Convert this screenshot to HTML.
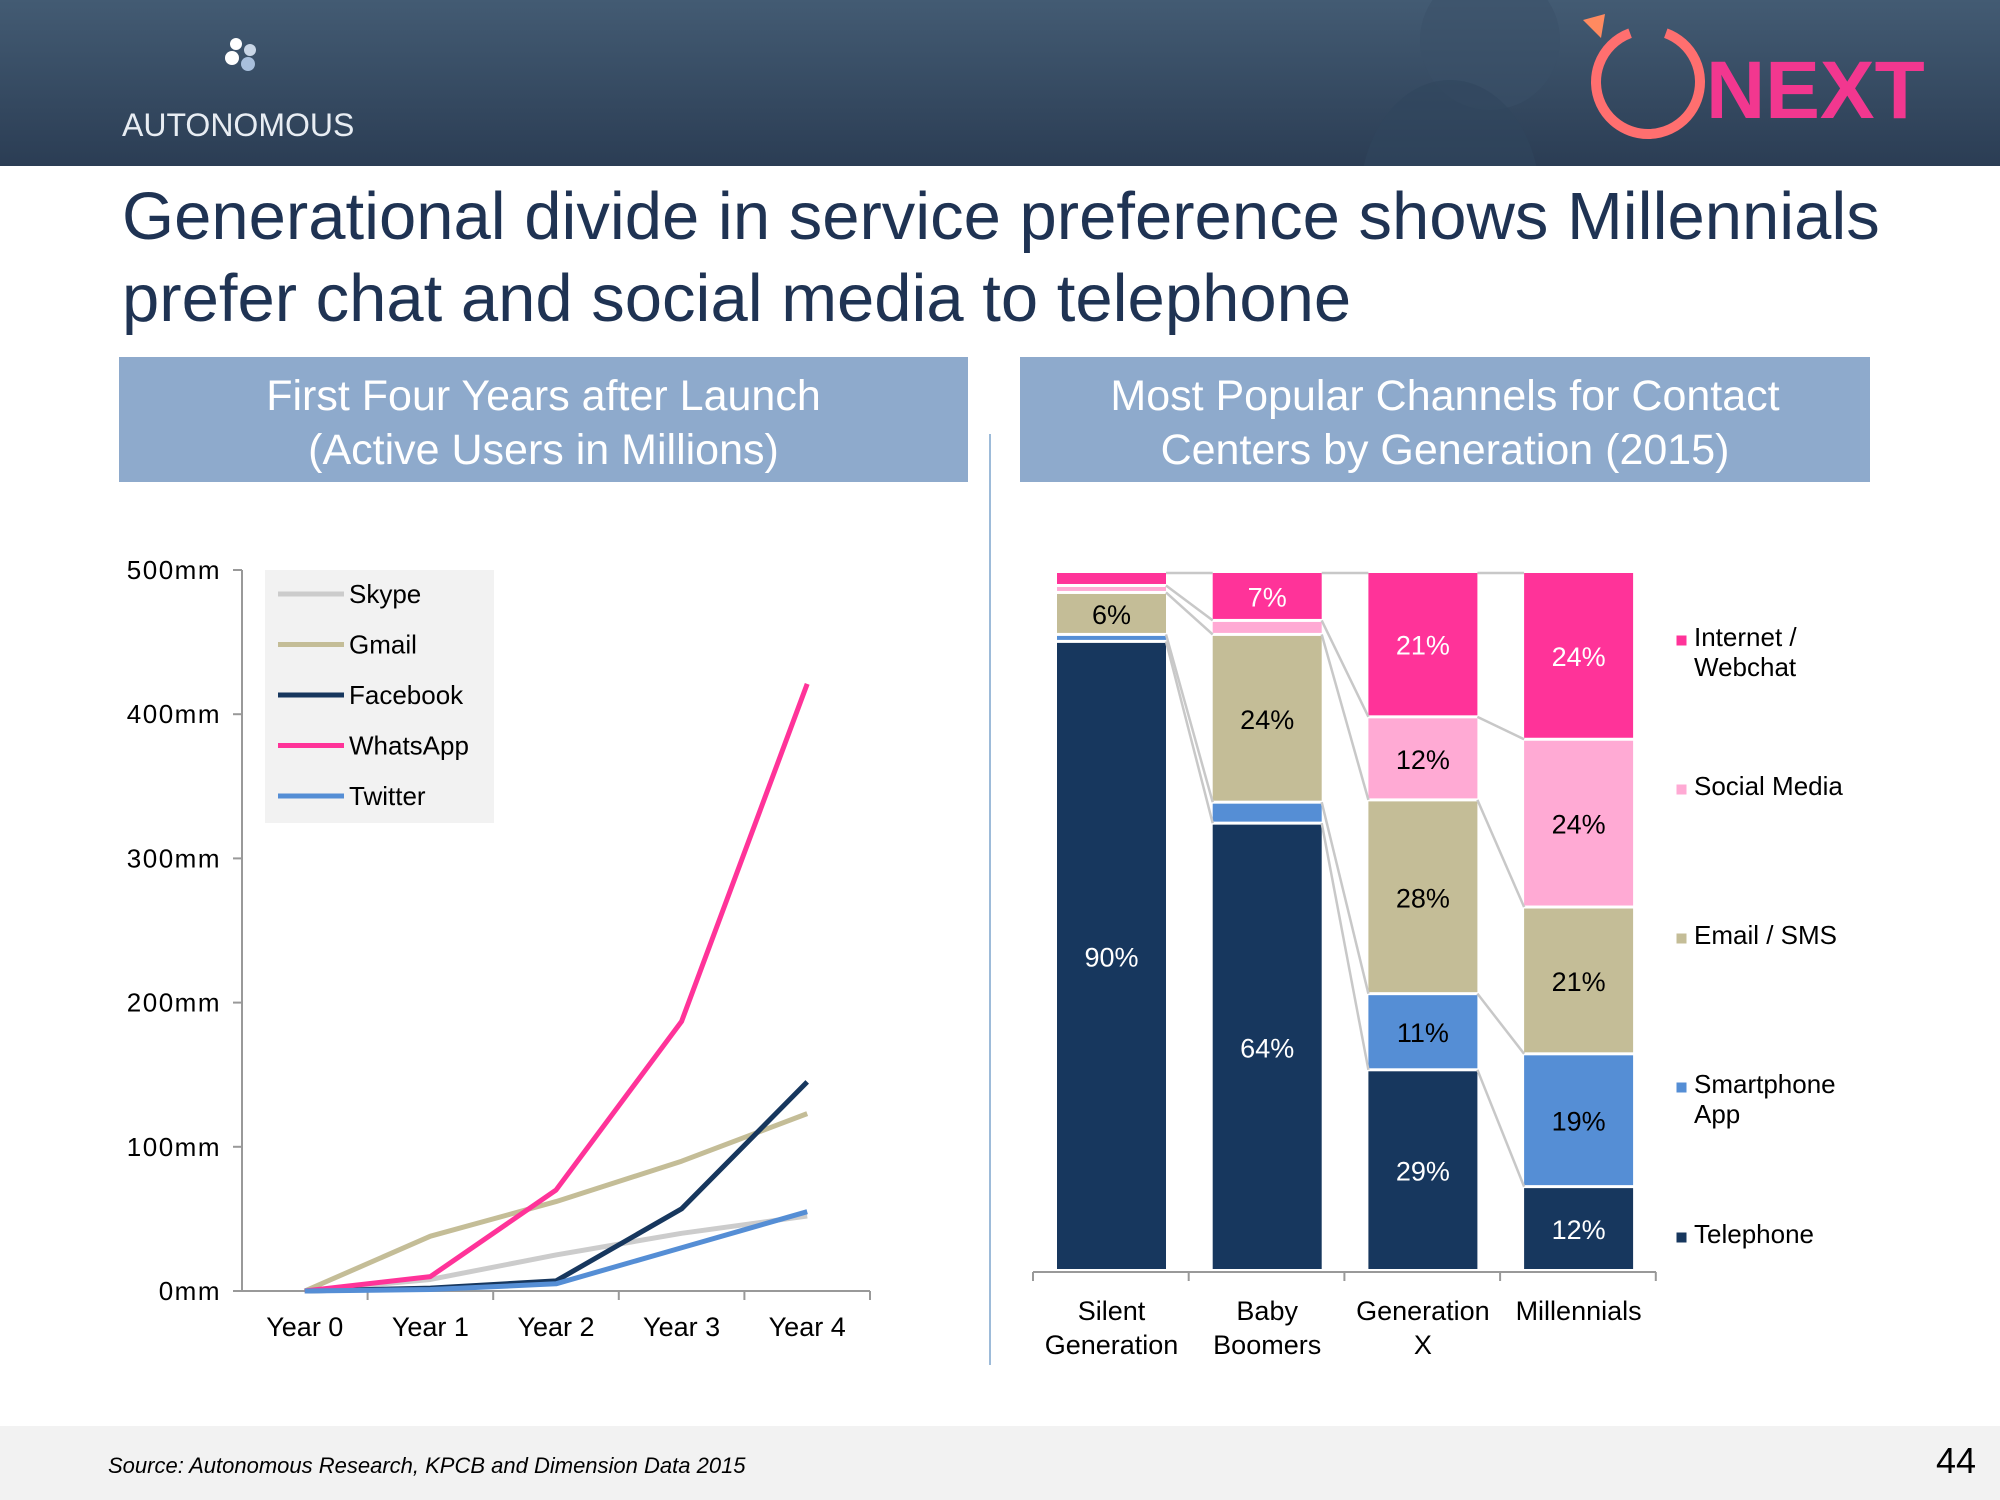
<!DOCTYPE html>
<html><head><meta charset="utf-8"><style>
body{margin:0;width:2000px;height:1500px;overflow:hidden;background:#fff;font-family:"Liberation Sans",sans-serif;position:relative}
.abs{position:absolute}
.panel{position:absolute;background:#8eaacc;color:#fff;font-size:43px;text-align:center;line-height:54px;padding-top:12px;box-sizing:border-box}
</style></head><body>
<div class="abs" style="left:0;top:0;width:2000px;height:166px;background:linear-gradient(#435b73,#2b3d54)"></div>
<svg class="abs" style="left:0;top:0" width="2000" height="166">
<circle cx="1490" cy="40" r="70" fill="#3a5068" opacity="0.5"/>
<ellipse cx="1450" cy="200" rx="90" ry="120" fill="#31465d" opacity="0.6"/>
<circle cx="236" cy="44" r="6" fill="#fff"/><circle cx="250" cy="50" r="6" fill="#c9d6e6"/><circle cx="232" cy="58" r="7" fill="#fff"/><circle cx="248" cy="64" r="7" fill="#a8bfdc"/>
<text x="122" y="136" fill="#e8edf3" font-size="32" font-family="Liberation Sans">AUTONOMOUS</text>
<circle cx="1648" cy="82" r="52" fill="none" stroke="#ff6f6f" stroke-width="10" stroke-dasharray="290 40" transform="rotate(-70 1648 82)"/>
<path d="M1583 20 l22 -6 l-4 24 z" fill="#ff8a60"/>
<text x="1706" y="118" fill="#f2378f" font-size="82" font-weight="bold" font-family="Liberation Sans">NEXT</text>
</svg>
<div class="abs" style="left:122px;top:176px;font-size:67px;line-height:82px;color:#1f3353;width:1870px">Generational divide in service preference shows Millennials prefer chat and social media to telephone</div>
<div class="panel" style="left:119px;top:357px;width:849px;height:125px">First Four Years after Launch<br>(Active Users in Millions)</div>
<div class="panel" style="left:1020px;top:357px;width:850px;height:125px">Most Popular Channels for Contact<br>Centers by Generation (2015)</div>
<div class="abs" style="left:989px;top:434px;width:2px;height:931px;background:#9dbbd9"></div>

<svg class="abs" id="lc" style="left:0;top:0" width="1000" height="1400"></svg>
<svg class="abs" id="bc" style="left:0;top:0" width="1990" height="1400"></svg>

<div class="abs" style="left:0;top:1426px;width:2000px;height:74px;background:#f2f2f2"></div>
<div class="abs" style="left:108px;top:1453px;font-size:22px;font-style:italic;color:#000">Source: Autonomous Research, KPCB and Dimension Data 2015</div>
<div class="abs" style="left:1936px;top:1440px;font-size:36px;color:#000">44</div>

<script>
const years=["Year 0","Year 1","Year 2","Year 3","Year 4"];
const yTicks=[0,100,200,300,400,500];
const yTickLabels=["0mm","100mm","200mm","300mm","400mm","500mm"];
const seriesNames=["Skype","Gmail","Facebook","WhatsApp","Twitter"];
const skype=[0,8,25,40,52];
const gmail=[0,38,62,90,123];
const facebook=[0,2,7,57,145];
const whatsapp=[0,10,70,187,421];
const twitter=[0,1,5,30,55];

const generations=[["Silent","Generation"],["Baby","Boomers"],["Generation","X"],["Millennials"]];
const channelNames=["Telephone","Smartphone App","Email / SMS","Social Media","Internet / Webchat"];
const telephone=[90,64,29,12];
const smartphone=[1,3,11,19];
const email=[6,24,28,21];
const social=[1,2,12,24];
const internet=[2,7,21,24];

const NS="http://www.w3.org/2000/svg";
function mk(parent,tag,attrs){const e=document.createElementNS(NS,tag);for(const k in attrs)e.setAttribute(k,attrs[k]);parent.appendChild(e);return e;}

const lc=document.getElementById('lc');
const x0=242,x1=870,yb=1291,yt=570;
const ly=v=>yb-(v/500)*(yb-yt);
const lx=i=>x0+(i+0.5)*(x1-x0)/years.length;
let a=mk(lc,'line',{x1:x0,y1:yt,x2:x0,y2:yb,stroke:'#999','stroke-width':2});

a=mk(lc,'line',{x1:x0,y1:yb,x2:x1,y2:yb,stroke:'#999','stroke-width':2});

yTicks.forEach((v,i)=>{
  mk(lc,'line',{x1:x0-9,y1:ly(v),x2:x0,y2:ly(v),stroke:'#999','stroke-width':2});
  const t=mk(lc,'text',{x:221,y:ly(v)+9,'text-anchor':'end','font-size':26,'letter-spacing':1.5,fill:'#000'});
  t.textContent=yTickLabels[i];
  
});
years.forEach((y,i)=>{
  const xe=x0+(i+1)*(x1-x0)/years.length;
  mk(lc,'line',{x1:xe,y1:yb,x2:xe,y2:yb+9,stroke:'#999','stroke-width':2});
  const t=mk(lc,'text',{x:lx(i),y:1336,'text-anchor':'middle','font-size':27,fill:'#000'});
  t.textContent=y;
  
});
const lineData=[skype,gmail,facebook,whatsapp,twitter];
const lineColors=['#cccccc','#c4bd97','#17375e','#ff3399','#558ed5'];
const lg=mk(lc,'rect',{x:265,y:570,width:229,height:253,fill:'#f2f2f2'});

lineData.forEach((d,s)=>{
  const p=mk(lc,'polyline',{points:d.map((v,i)=>lx(i)+','+ly(v)).join(' '),fill:'none',stroke:lineColors[s],'stroke-width':5,'stroke-linejoin':'round'});
  
  const yy=594+s*50.5;
  mk(lc,'line',{x1:278,y1:yy,x2:344,y2:yy,stroke:lineColors[s],'stroke-width':5});
  const t=mk(lc,'text',{x:349,y:yy+9,'font-size':26,fill:'#000'});
  t.textContent=seriesNames[s];
  
});

const bc=document.getElementById('bc');
const bb=1272,bt=573,bw=109,step=155.7,bx0=1057;
const segs=[telephone,smartphone,email,social,internet];
const segColors=['#17375e','#558ed5','#c4bd97','#ffaad4','#ff3399'];
const labColors=['#fff','#000','#000','#000','#fff'];
const segKeys=['telephone','smartphone','email','social','internet'];
const tops=[];
generations.forEach((g,i)=>{
  const tot=segs.reduce((s,a)=>s+a[i],0);
  const bx=bx0+i*step;let cum=0;const bounds=[0];
  segs.forEach((arr,s)=>{
    const v=arr[i];const y1=bb-(cum/tot)*(bb-bt);cum+=v;const y2=bb-(cum/tot)*(bb-bt);
    bounds.push(cum/tot);
    const r=mk(bc,'rect',{x:bx,y:y2,width:bw,height:Math.max(y1-y2-3,1),fill:segColors[s]});
    
    if(v>=5){const t=mk(bc,'text',{x:bx+bw/2,y:(y1+y2)/2+9,'text-anchor':'middle','font-size':27,fill:labColors[s]});
      t.textContent=v+'%';}
  });
  tops.push(bounds);
  g.forEach((ln,k)=>{const t=mk(bc,'text',{x:bx+bw/2,y:1320+k*34,'text-anchor':'middle','font-size':27,fill:'#000'});
    t.textContent=ln;});
});
for(let i=0;i<generations.length-1;i++){
  for(let k=1;k<=5;k++){
    const ya=bb-tops[i][k]*(bb-bt)-(k<5?1.5:0),yb2=bb-tops[i+1][k]*(bb-bt)-(k<5?1.5:0);
    const l=mk(bc,'line',{x1:bx0+i*step+bw,y1:ya,x2:bx0+(i+1)*step,y2:yb2,stroke:'#c8c8c8','stroke-width':2.5});
    
  }
}
a=mk(bc,'line',{x1:1033,y1:bb,x2:1656,y2:bb,stroke:'#999','stroke-width':2});

for(let k=0;k<=4;k++)mk(bc,'line',{x1:1033+k*155.7,y1:bb,x2:1033+k*155.7,y2:bb+9,stroke:'#999','stroke-width':2});
const legY=[1243,1093,944,795,646];
const legLines=[["Telephone"],["Smartphone","App"],["Email / SMS"],["Social Media"],["Internet /","Webchat"]];
legLines.forEach((ls,s)=>{
  mk(bc,'rect',{x:1676,y:legY[s]-11,width:11,height:11,fill:segColors[s],stroke:'#fff'});
  ls.forEach((ln,k)=>{const t=mk(bc,'text',{x:1694,y:legY[s]+k*30,'font-size':26,fill:'#000'});
    t.textContent=ln;});
});
</script>
</body></html>
